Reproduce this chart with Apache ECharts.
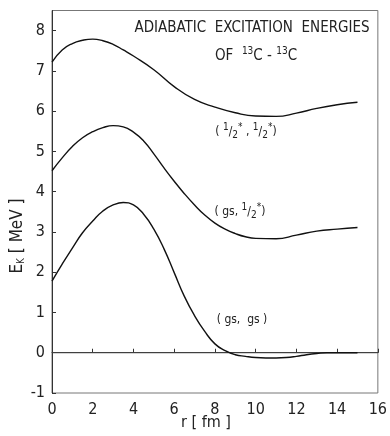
<!DOCTYPE html>
<html><head><meta charset="utf-8">
<script src="https://cdn.jsdelivr.net/npm/echarts@6/dist/echarts.min.js"></script>
<style>html,body{margin:0;padding:0;background:#fff}#c{width:390px;height:436px}</style>
</head><body><div id="c"></div>
<script>
// r [fm] and E_K [MeV]
const rTop = [0, 0.5, 1, 1.5, 2, 2.5, 3, 3.5, 4, 5, 6, 7, 8, 9, 10, 11, 12, 13, 14, 15];
const eTop = [7.22, 7.52, 7.68, 7.76, 7.79, 7.75, 7.66, 7.52, 7.37, 7.03, 6.61, 6.29, 6.10, 5.96, 5.88, 5.87, 5.95, 6.07, 6.16, 6.22];
const rMid = [0, 0.5, 1, 1.5, 2, 2.5, 3, 3.5, 4, 4.5, 5, 5.5, 6, 6.5, 7, 7.5, 8, 8.5, 9, 9.5, 10, 11, 12, 13, 14, 15];
const eMid = [4.52, 4.84, 5.12, 5.34, 5.49, 5.59, 5.64, 5.61, 5.48, 5.26, 4.94, 4.59, 4.26, 3.95, 3.67, 3.42, 3.22, 3.07, 2.96, 2.88, 2.84, 2.83, 2.92, 3.02, 3.07, 3.11];
const rLow = [0, 0.5, 1, 1.5, 2, 2.5, 3, 3.5, 4, 4.5, 5, 5.5, 6, 6.5, 7, 7.5, 8, 8.5, 9, 9.5, 10, 10.5, 11, 11.5, 12, 12.5, 13, 13.5, 15];
const eLow = [1.78, 2.2, 2.6, 2.98, 3.27, 3.52, 3.67, 3.73, 3.67, 3.44, 3.07, 2.58, 1.99, 1.40, 0.92, 0.53, 0.22, 0.05, -0.05, -0.09, -0.12, -0.13, -0.13, -0.12, -0.09, -0.05, -0.02, 0, 0];
const rZero = [0, 16];
const eZero = [0, 0];
const xTicks = ['0', '2', '4', '6', '8', '10', '12', '14', '16'];
const curveLabels = ['( {sup|1}/{sub|2}{sup|*} , {sup|1}/{sub|2}{sup|*})', '( gs, {sup|1}/{sub|2}{sup|*})', '( gs,  gs )'];
const titleLine1 = 'ADIABATIC  EXCITATION  ENERGIES';
const titleLine2 = 'OF  {sup|13}C - {sup|13}C';

const zip = (a, b) => a.map((v, i) => [v, b[i]]);
const FF = "'DejaVu Sans Condensed', 'Liberation Sans Narrow', sans-serif";
const rich = {
  sup: { fontSize: 10, fontFamily: FF, padding: [0, 0, 9, 0], fill: '#222', color: '#222' },
  sub: { fontSize: 10, fontFamily: FF, padding: [7, 0, 0, 0], fill: '#222', color: '#222' }
};
const chart = echarts.init(document.getElementById('c'), null, { renderer: 'canvas' });
const lineStyle = { color: '#111', width: 1.4 };
const mkText = (x, y, text, size, extra) => Object.assign({
  type: 'text', x: x, y: y, z: 10,
  style: { text: text, fontSize: size, fontFamily: FF, fill: '#222', align: 'center', verticalAlign: 'middle', rich: rich }
}, extra || {});
chart.setOption({
  animation: false,
  grid: { left: 52, right: 9, top: 10.5, bottom: 43, show: true, borderColor: '#777', borderWidth: 1 },
  xAxis: {
    type: 'value', min: 0, max: 16, interval: 2,
    axisLine: { show: true, lineStyle: { color: '#333', width: 1 } },
    axisTick: { show: true, inside: true, length: 4, lineStyle: { color: '#333' } },
    axisLabel: { margin: 9, fontSize: 16, fontFamily: FF, color: '#222', formatter: v => xTicks[v / 2] },
    splitLine: { show: false }
  },
  yAxis: {
    type: 'value', min: -1, max: 8.5, interval: 1,
    axisLine: { show: true, lineStyle: { color: '#333', width: 1 } },
    axisTick: { show: true, inside: true, length: 4, lineStyle: { color: '#333' } },
    axisLabel: { margin: 7, fontSize: 16, fontFamily: FF, color: '#222', showMaxLabel: false,
      formatter: v => (Number.isInteger(v) ? String(v) : '') },
    splitLine: { show: false }
  },
  graphic: [
    mkText(252, 28, titleLine1, 15),
    mkText(256, 56, titleLine2, 15),
    mkText(246, 132, curveLabels[0], 12),
    mkText(240, 212, curveLabels[1], 12),
    mkText(242, 320, curveLabels[2], 12),
    mkText(206, 423, 'r [ fm ]', 16),
    mkText(18, 236, 'E{sub|K} [ MeV ]', 17, { rotation: Math.PI / 2 })
  ],
  series: [
    { type: 'line', data: zip(rZero, eZero), symbol: 'none', lineStyle: { color: '#444', width: 1 } },
    { type: 'line', data: zip(rTop, eTop), symbol: 'none', smooth: 0.5, lineStyle: lineStyle },
    { type: 'line', data: zip(rMid, eMid), symbol: 'none', smooth: 0.5, lineStyle: lineStyle },
    { type: 'line', data: zip(rLow, eLow), symbol: 'none', smooth: 0.5, lineStyle: lineStyle }
  ]
});
</script></body></html>
